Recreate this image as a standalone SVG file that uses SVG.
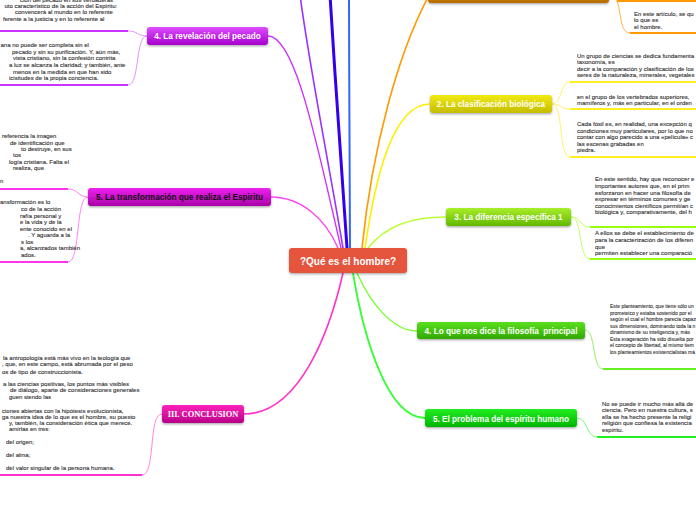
<svg xmlns="http://www.w3.org/2000/svg" width="696" height="520" viewBox="0 0 696 520">
<defs>
<filter id="sh" x="-10%" y="-30%" width="120%" height="170%"><feDropShadow dx="0" dy="1.2" stdDeviation="1" flood-color="#000" flood-opacity="0.35"/></filter>
<linearGradient id="gOr" x1="0" y1="0" x2="0" y2="1"><stop offset="0" stop-color="#d88a10"/><stop offset="1" stop-color="#b86d00"/></linearGradient>
<linearGradient id="gPe" x1="0" y1="0" x2="0" y2="1"><stop offset="0" stop-color="#dd4dff"/><stop offset="1" stop-color="#a600cc"/></linearGradient>
<linearGradient id="gEs" x1="0" y1="0" x2="0" y2="1"><stop offset="0" stop-color="#ee22ee"/><stop offset="1" stop-color="#a800a8"/></linearGradient>
<linearGradient id="gCo" x1="0" y1="0" x2="0" y2="1"><stop offset="0" stop-color="#ff22bb"/><stop offset="1" stop-color="#b80088"/></linearGradient>
<linearGradient id="gCl" x1="0" y1="0" x2="0" y2="1"><stop offset="0" stop-color="#f2ea10"/><stop offset="1" stop-color="#c4bc00"/></linearGradient>
<linearGradient id="gDi" x1="0" y1="0" x2="0" y2="1"><stop offset="0" stop-color="#a8ee2a"/><stop offset="1" stop-color="#62b800"/></linearGradient>
<linearGradient id="gFi" x1="0" y1="0" x2="0" y2="1"><stop offset="0" stop-color="#5ae020"/><stop offset="1" stop-color="#32a800"/></linearGradient>
<linearGradient id="gPr" x1="0" y1="0" x2="0" y2="1"><stop offset="0" stop-color="#22ee22"/><stop offset="1" stop-color="#00b400"/></linearGradient>
</defs>
<style>
.lbl{font-family:"Liberation Sans",Arial,sans-serif;font-weight:bold;font-size:8.2px;fill:#fff;text-anchor:middle}
.t{font-family:"Liberation Sans",Arial,sans-serif;font-size:6px;fill:#333;stroke:#333;stroke-width:0.12}
.ts{font-family:"Liberation Sans",Arial,sans-serif;font-size:5px;fill:#333;stroke:#333;stroke-width:0.1}
.c{fill:none;stroke-linecap:round}
.u{fill:none;stroke-width:2.2}
.s{fill:none;stroke-width:0.9}
</style>
<rect width="696" height="520" fill="#fff"/>
<g id="connectors">
<path class="c" d="M300,-5 C310,70 330,170 343,248" stroke="#9933ff" stroke-width="1.6"/>
<path class="c" d="M330,-5 C335,80 342,170 347,248" stroke="#3300ee" stroke-width="3"/>
<path class="c" d="M349,-5 C349,80 350,170 350,248" stroke="#3366ff" stroke-width="2"/>
<path class="c" d="M268,36 C296,36 318,150 341,248" stroke="#cc33ff" stroke-width="1.4"/>
<path class="c" d="M271,197 C302,197 326,220 338,248" stroke="#ff44ee" stroke-width="1.4"/>
<path class="c" d="M362,248 C372,150 398,50 432,-10" stroke="#ff9900" stroke-width="1.6"/>
<path class="c" d="M365,248 C375,180 392,104 430,104" stroke="#ffee00" stroke-width="1.6"/>
<path class="c" d="M368,248 C386,226 410,217 446,217" stroke="#bbff33" stroke-width="1.4"/>
<path class="c" d="M343,273 C330,330 300,414 244,414" stroke="#ff33cc" stroke-width="1.6"/>
<path class="c" d="M357,273 C370,302 392,331 417,331" stroke="#77ff33" stroke-width="1.4"/>
<path class="c" d="M353,273 C364,340 388,418 425,418" stroke="#33ff33" stroke-width="1.8"/>
<path class="s" d="M609,-6 C622,-6 618,1 630,1" stroke="#ffaa33"/>
<path class="s" d="M609,-6 C624,-6 616,33 630,33" stroke="#ffaa33"/>
<path class="u" d="M617,1 H696 M630,33 H696" stroke="#ff9900"/>
<path class="s" d="M147,36 C137,36 138,31 128,31" stroke="#dd88ff"/>
<path class="s" d="M147,36 C135,36 140,85 128,85" stroke="#dd88ff"/>
<path class="u" d="M0,31 H128 M0,85 H128" stroke="#cc33ff"/>
<path class="s" d="M88,197 C78,197 78,189 68,189" stroke="#ff77f0"/>
<path class="s" d="M88,197 C75,197 81,262 68,262" stroke="#ff77f0"/>
<path class="u" d="M0,189 H68 M0,262 H68" stroke="#ff33ee"/>
<path class="s" d="M162,414 C148,414 156,475 142,475" stroke="#ff77dd"/>
<path class="u" d="M0,475 H142" stroke="#ff33cc"/>
<path class="s" d="M552,104 C562,104 560,82 570,82" stroke="#ffee55"/>
<path class="s" d="M552,104 C562,104 560,109 570,109" stroke="#ffee55"/>
<path class="s" d="M552,104 C564,104 558,157 570,157" stroke="#ffee55"/>
<path class="u" d="M570,82 H696 M570,109 H696 M570,157 H696" stroke="#ffee22"/>
<path class="s" d="M571,217 C582,217 579,227 590,227" stroke="#bbff55"/>
<path class="s" d="M571,217 C583,217 578,259 590,259" stroke="#bbff55"/>
<path class="u" d="M590,227 H696 M590,259 H696" stroke="#99ff11"/>
<path class="s" d="M585,330 C596,330 592,369 603,369" stroke="#88ee55"/>
<path class="u" d="M603,369 H696" stroke="#66ee22"/>
<path class="s" d="M577,418 C588,418 586,437 597,437" stroke="#66ff66"/>
<path class="u" d="M597,437 H696" stroke="#22ee22"/>
</g>
<g id="center">
<rect x="289" y="248" width="118" height="25" rx="3" fill="#e5543d" filter="url(#sh)"/>
<text class="lbl" x="348" y="264.5" style="font-size:10px">?Qué es el hombre?</text>
</g>
<g id="n-orange">
<rect x="428" y="-15" width="181" height="18" rx="3" fill="url(#gOr)" filter="url(#sh)"/>
<text class="t" x="634" y="16.3">En este artículo, se qu</text>
<text class="t" x="634" y="22">lo que es</text>
<text class="t" x="634" y="28.7">el hombre.</text>
</g>
<g id="n-pecado">
<rect x="147" y="27" width="121" height="18" rx="3" fill="url(#gPe)" filter="url(#sh)"/>
<text class="lbl" x="207.5" y="39">4. La revelación del pecado</text>
<text class="t" x="20" y="1.5">ción del pecado en sus verdaderas</text>
<text class="t" x="4.5" y="7.8">uto característico de la acción del Espíritu:</text>
<text class="t" x="15" y="14.4">convencerá al mundo en lo referente</text>
<text class="t" x="3" y="21">ferente a la justicia y en lo referente al</text>
<text class="t" x="0.5" y="47">ana no puede ser completa sin el</text>
<text class="t" x="12" y="53.7">pecado y sin su purificación. Y, aún más,</text>
<text class="t" x="13" y="60.3">vista cristiano, sin la confesión contrita</text>
<text class="t" x="9" y="67">a luz se alcanza la claridad; y también, ante</text>
<text class="t" x="13" y="73.7">menos en la medida en que han sido</text>
<text class="t" x="9" y="80.3">icisitudes de la propia conciencia.</text>
</g>
<g id="n-espiritu">
<rect x="88" y="188" width="183" height="18" rx="3" fill="url(#gEs)" filter="url(#sh)"/>
<text class="lbl" x="179.5" y="200" style="fill:#111">5. La transformación que realiza el Espiritu</text>
<text class="t" x="2" y="138">referencia la imagen</text>
<text class="t" x="10" y="144.7">de identificación que</text>
<text class="t" x="21" y="151.3">to destruye, en sus</text>
<text class="t" x="13" y="156.7">tos</text>
<text class="t" x="9" y="164.3">logía cristiana. Falta el</text>
<text class="t" x="13" y="169.7">realiza, que</text>
<text class="t" x="0" y="183">n</text>
<text class="t" x="0" y="203.7">ansformación es lo</text>
<text class="t" x="21" y="211.3">co de la acción</text>
<text class="t" x="20" y="218">rafía personal y</text>
<text class="t" x="20" y="224">e la vida y de la</text>
<text class="t" x="20" y="230.7">ente conocido en el</text>
<text class="t" x="28" y="237.3">. Y aguarda a la</text>
<text class="t" x="21" y="243.7">s los</text>
<text class="t" x="20" y="250.3">a, alcanzados también</text>
<text class="t" x="21" y="257">ados.</text>
</g>
<g id="n-conclusion">
<rect x="162" y="405" width="82" height="18" rx="3" fill="url(#gCo)" filter="url(#sh)"/>
<text class="lbl" x="203" y="417" style="font-family:'Liberation Serif','DejaVu Serif',serif;font-size:8.4px">III. CONCLUSION</text>
<text class="t" x="3" y="360.3">la antropología está más vivo en la teología que</text>
<text class="t" x="2" y="366.3">, que, en este campo, está abrumada por el peso</text>
<text class="t" x="2" y="374">os de tipo de construccionista.</text>
<text class="t" x="3" y="386.3">a las ciencias positivas, los puntos más visibles</text>
<text class="t" x="10" y="392.3">de diálogo, aparte de consideraciones generales</text>
<text class="t" x="9" y="399">guen siendo las</text>
<text class="t" x="2" y="413">ciones abiertas con la hipótesis evolucionista,</text>
<text class="t" x="2" y="418.7">ga nuestra idea de lo que es el hombre, su puesto</text>
<text class="t" x="9" y="425">y, también, la consideración ética que merece.</text>
<text class="t" x="9" y="431">amirlas en tres:</text>
<text class="t" x="6" y="444">del origen;</text>
<text class="t" x="6" y="457">del alma;</text>
<text class="t" x="6" y="470">del valor singular de la persona humana.</text>
</g>
<g id="n-clasificacion">
<rect x="430" y="95" width="122" height="18" rx="3" fill="url(#gCl)" filter="url(#sh)"/>
<text class="lbl" x="491" y="107">2. La clasificación biológica</text>
<text class="t" x="577" y="58">Un grupo de ciencias se dedica fundamenta</text>
<text class="t" x="577" y="64.4">taxonomía, es</text>
<text class="t" x="577" y="71">decir a la comparación y clasificación de los</text>
<text class="t" x="577" y="77.3">seres de la naturaleza, minerales, vegetales</text>
<text class="t" x="577" y="99">en el grupo de los vertebrados superiores,</text>
<text class="t" x="577" y="105.4">mamíferos y, más en particular, en el orden</text>
<text class="t" x="577" y="126">Cada fósil es, en realidad, una excepción q</text>
<text class="t" x="577" y="132.5">condiciones muy particulares, por lo que no</text>
<text class="t" x="577" y="139">contar con algo parecido a una «película» c</text>
<text class="t" x="577" y="145.5">las escenas grabadas en</text>
<text class="t" x="577" y="152">piedra.</text>
</g>
<g id="n-diferencia">
<rect x="446" y="208" width="125" height="18" rx="3" fill="url(#gDi)" filter="url(#sh)"/>
<text class="lbl" x="508.5" y="220">3. La diferencia específica 1</text>
<text class="t" x="595" y="181.3">En este sentido, hay que reconocer e</text>
<text class="t" x="595" y="188">importantes autores que, en el prim</text>
<text class="t" x="595" y="194.7">esforzaron en hacer una filosofía de</text>
<text class="t" x="595" y="201.3">expresar en términos comunes y ge</text>
<text class="t" x="595" y="208">conocimientos científicos permitían c</text>
<text class="t" x="595" y="214.3">biológica y, comparativamente, del h</text>
<text class="t" x="595" y="235.3">A ellos se debe el establecimiento de</text>
<text class="t" x="595" y="242">para la caracterización de los diferen</text>
<text class="t" x="595" y="248.5">que</text>
<text class="t" x="595" y="255.3">permiten establecer una comparació</text>
</g>
<g id="n-filosofia">
<rect x="417" y="322" width="168" height="17" rx="3" fill="url(#gFi)" filter="url(#sh)"/>
<text class="lbl" x="501" y="333.5" xml:space="preserve">4. Lo que nos dice la filosofía  principal</text>
<text class="ts" x="610" y="308">Este planteamiento, que tiene sólo un</text>
<text class="ts" x="610" y="314.6">prometeico y estaba sostenido por el</text>
<text class="ts" x="610" y="321">según el cual el hombre parecía capaz</text>
<text class="ts" x="610" y="327.6">sus dimensiones, dominando toda la n</text>
<text class="ts" x="610" y="334.4">dinamismo de su  inteligencia y, más</text>
<text class="ts" x="610" y="340.8">Esta exageración ha sido disuelta por</text>
<text class="ts" x="610" y="347">el concepto de libertad, al mismo tiem</text>
<text class="ts" x="610" y="353.6">los planteamientos existencialistas má</text>
</g>
<g id="n-problema">
<rect x="425" y="409" width="152" height="18" rx="3" fill="url(#gPr)" filter="url(#sh)"/>
<text class="lbl" x="501" y="421.5">5. El problema del espíritu humano</text>
<text class="t" x="602" y="406">No se puede ir mucho más allá de</text>
<text class="t" x="602" y="412.3">ciencia. Pero en nuestra cultura, s</text>
<text class="t" x="602" y="418.7">ella se ha hecho presente la religi</text>
<text class="t" x="602" y="425">religión que confiesa la existencia</text>
<text class="t" x="602" y="431.5">espíritu.</text>
</g>
</svg>
